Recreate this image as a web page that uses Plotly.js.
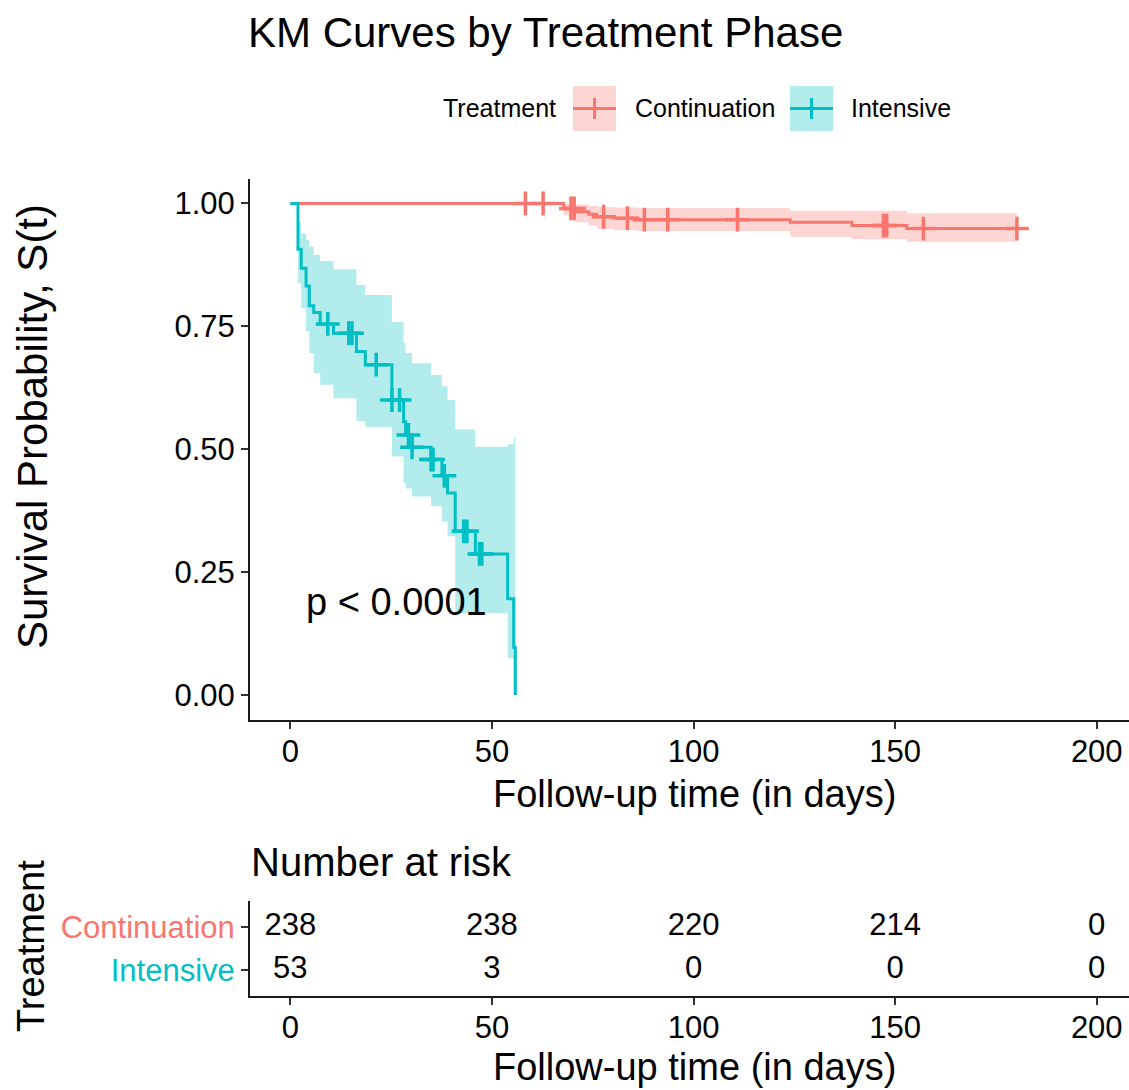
<!DOCTYPE html>
<html><head><meta charset="utf-8">
<script src="https://cdn.plot.ly/plotly-3.0.1.min.js"></script>
<style>html,body{margin:0;padding:0;background:#fff;}</style>
</head><body>
<div id="chart" style="width:1129px;height:1090px;"></div>
<script>
// ---------------- data ----------------
const contTime  = [0, 67.8, 70.7, 74.0, 76.0, 80.2, 86.0, 124.0, 139.3, 152.9, 180.2];
const contSurv  = [1, 0.990, 0.983, 0.978, 0.973, 0.970, 0.967, 0.962, 0.955, 0.949, 0.949];
const contUpper = [1, 1.000, 0.998, 0.995, 0.993, 0.992, 0.991, 0.985, 0.985, 0.980, 0.980];
const contLower = [1, 0.976, 0.962, 0.955, 0.948, 0.946, 0.944, 0.932, 0.927, 0.922, 0.922];
const contCensor = [58.3, 62.7, 69.6, 70.4, 77.7, 83.6, 87.8, 93.6, 110.9, 147.1, 147.9, 157.0, 180.2];

const intTime  = [0, 1.9, 2.7, 3.9, 4.7, 5.8, 7.4, 10.7, 16.4, 18.6, 25.2, 28.1, 28.6, 30.2, 34.9, 37.6, 39.0, 40.9, 45.9, 53.9, 55.4, 55.8];
const intSurv  = [1, 0.907, 0.868, 0.832, 0.792, 0.778, 0.755, 0.736, 0.699, 0.672, 0.600, 0.556, 0.529, 0.504, 0.479, 0.446, 0.411, 0.333, 0.287, 0.196, 0.097, 0.000];
const intUpper = [1, 0.963, 0.939, 0.926, 0.912, 0.895, 0.883, 0.866, 0.834, 0.814, 0.759, 0.716, 0.696, 0.675, 0.651, 0.628, 0.600, 0.540, 0.505, 0.510, 0.525, 0.525];
const intLower = [1, 0.837, 0.787, 0.740, 0.696, 0.655, 0.631, 0.604, 0.557, 0.545, 0.485, 0.431, 0.420, 0.404, 0.384, 0.353, 0.323, 0.167, 0.167, 0.075, 0.020, 0.020];
const intCensor = [9.3, 14.5, 15.3, 21.3, 25.2, 27.1, 29.3, 30.2, 34.9, 35.4, 38.2, 43.0, 43.8, 46.9, 47.5];

const groups = ["Continuation", "Intensive"];
const riskTimes = [0, 50, 100, 150, 200];
const riskCont = [238, 238, 220, 214, 0];
const riskInt  = [53, 3, 0, 0, 0];
const xTicks = [0, 50, 100, 150, 200];
const yTicks = [0, 0.25, 0.5, 0.75, 1];
const yTickText = ["0.00", "0.25", "0.50", "0.75", "1.00"];
const pText = "p &lt; 0.0001";

// ---------------- styling ----------------
const W = 1129, H = 1090;
const FONT = '"Liberation Sans", Arial, sans-serif';
const COL = {Continuation: '#F8766D', Intensive: '#00BFC4'};
const FILL = {Continuation: 'rgba(248,118,109,0.3)', Intensive: 'rgba(0,191,196,0.3)'};
const px = x => x / W;
const py = y => 1 - y / H;
function stepAt(times, vals, t) {
  let v = vals[0];
  for (let i = 0; i < times.length; i++) if (times[i] <= t + 1e-9) v = vals[i];
  return v;
}

const series = [
  {name: groups[0], t: contTime, s: contSurv, u: contUpper, l: contLower, c: contCensor},
  {name: groups[1], t: intTime, s: intSurv, u: intUpper, l: intLower, c: intCensor}
];

const traces = [];
series.forEach(g => {
  traces.push({x: g.t, y: g.u, type: 'scatter', mode: 'lines', line: {shape: 'hv', width: 0},
    showlegend: false, hoverinfo: 'skip', xaxis: 'x', yaxis: 'y'});
  traces.push({x: g.t, y: g.l, type: 'scatter', mode: 'lines', line: {shape: 'hv', width: 0},
    fill: 'tonexty', fillcolor: FILL[g.name], showlegend: false, hoverinfo: 'skip', xaxis: 'x', yaxis: 'y'});
});
series.forEach(g => {
  traces.push({x: g.t, y: g.s, type: 'scatter', mode: 'lines', name: g.name,
    line: {shape: 'hv', width: 3, color: COL[g.name]}, showlegend: false, xaxis: 'x', yaxis: 'y'});
});
series.forEach(g => {
  traces.push({x: g.c, y: g.c.map(t => stepAt(g.t, g.s, t)), type: 'scatter', mode: 'markers',
    marker: {symbol: 'cross-thin', size: 17, line: {width: 3.5, color: COL[g.name]}, color: COL[g.name]},
    showlegend: false, hoverinfo: 'skip', xaxis: 'x', yaxis: 'y'});
});
// risk table
traces.push({x: riskTimes, y: riskTimes.map(() => 2), text: riskCont.map(String), type: 'scatter', mode: 'text',
  textfont: {family: FONT, size: 31, color: '#000'}, textposition: 'middle center', showlegend: false,
  hoverinfo: 'skip', xaxis: 'x2', yaxis: 'y2'});
traces.push({x: riskTimes, y: riskTimes.map(() => 1), text: riskInt.map(String), type: 'scatter', mode: 'text',
  textfont: {family: FONT, size: 31, color: '#000'}, textposition: 'middle center', showlegend: false,
  hoverinfo: 'skip', xaxis: 'x2', yaxis: 'y2'});

const axisCommon = {
  showline: true, linecolor: '#1a1a1a', linewidth: 2, mirror: false,
  ticks: 'outside', ticklen: 7, tickwidth: 2, tickcolor: '#333333',
  showgrid: false, zeroline: false, fixedrange: true,
  tickfont: {family: FONT, size: 31, color: '#000'}
};

const shapes = [];
const annotations = [];
// legend (manual, ggplot style)
const legendItems = [
  {name: groups[0], box: [573, 616], text: 633},
  {name: groups[1], box: [790, 833], text: 849}
];
annotations.push({text: 'Treatment', xref: 'paper', yref: 'paper', x: px(441), y: py(108.5),
  xanchor: 'left', yanchor: 'middle', showarrow: false, font: {family: FONT, size: 25, color: '#000'}});
legendItems.forEach(it => {
  const cx = (it.box[0] + it.box[1]) / 2;
  shapes.push({type: 'rect', xref: 'paper', yref: 'paper', x0: px(it.box[0]), x1: px(it.box[1]),
    y0: py(131), y1: py(86), fillcolor: FILL[it.name], line: {width: 0}});
  shapes.push({type: 'line', xref: 'paper', yref: 'paper', x0: px(it.box[0]), x1: px(it.box[1]),
    y0: py(108.5), y1: py(108.5), line: {color: COL[it.name], width: 3}});
  shapes.push({type: 'line', xref: 'paper', yref: 'paper', x0: px(cx), x1: px(cx),
    y0: py(98), y1: py(119), line: {color: COL[it.name], width: 3}});
  annotations.push({text: it.name, xref: 'paper', yref: 'paper', x: px(it.text), y: py(108.5),
    xanchor: 'left', yanchor: 'middle', showarrow: false, font: {family: FONT, size: 25, color: '#000'}});
});
// axis titles
annotations.push({text: 'Follow-up time (in days)', xref: 'paper', yref: 'paper', x: px(695), y: py(794),
  xanchor: 'center', yanchor: 'middle', showarrow: false, font: {family: FONT, size: 38, color: '#000'}});
annotations.push({text: 'Survival Probability, S(t)', xref: 'paper', yref: 'paper', x: px(33), y: py(427),
  xanchor: 'center', yanchor: 'middle', textangle: -90, showarrow: false, font: {family: FONT, size: 42, color: '#000'}});
annotations.push({text: pText, xref: 'x', yref: 'y', x: 3.3, y: 0.19,
  xanchor: 'left', yanchor: 'middle', showarrow: false, font: {family: FONT, size: 38, color: '#000'}});
annotations.push({text: 'Number at risk', xref: 'paper', yref: 'paper', x: px(249), y: py(862),
  xanchor: 'left', yanchor: 'middle', showarrow: false, font: {family: FONT, size: 40, color: '#000'}});
annotations.push({text: 'Treatment', xref: 'paper', yref: 'paper', x: px(31), y: py(946),
  xanchor: 'center', yanchor: 'middle', textangle: -90, showarrow: false, font: {family: FONT, size: 38, color: '#000'}});
annotations.push({text: 'Follow-up time (in days)', xref: 'paper', yref: 'paper', x: px(695), y: py(1067),
  xanchor: 'center', yanchor: 'middle', showarrow: false, font: {family: FONT, size: 38, color: '#000'}});

const layout = {
  width: W, height: H,
  margin: {l: 0, r: 0, t: 0, b: 0},
  paper_bgcolor: '#fff', plot_bgcolor: '#fff',
  font: {family: FONT, color: '#000'},
  title: {text: 'KM Curves by Treatment Phase', xref: 'paper', yref: 'paper', x: px(248), xanchor: 'left',
    y: py(32), yanchor: 'middle', font: {family: FONT, size: 42, color: '#000'}},
  showlegend: false,
  xaxis: Object.assign({}, axisCommon, {domain: [px(250), 1], range: [-10, 208], tickvals: xTicks, anchor: 'y',
    ticklabelstandoff: -4}),
  yaxis: Object.assign({}, axisCommon, {domain: [py(719.6), py(178.9)], range: [-0.05, 1.05],
    tickvals: yTicks, ticktext: yTickText, anchor: 'x'}),
  xaxis2: Object.assign({}, axisCommon, {domain: [px(250), 1], range: [-10, 208], tickvals: xTicks, anchor: 'y2',
    ticklabelstandoff: -4}),
  yaxis2: Object.assign({}, axisCommon, {domain: [py(996), py(901)], range: [0.4, 2.6], tickvals: [1, 2],
    ticktext: groups.slice().reverse().map(g => '<span style="color:' + COL[g] + '">' + g + '</span>'),
    anchor: 'x2'}),
  shapes: shapes,
  annotations: annotations
};

Plotly.newPlot('chart', traces, layout, {displayModeBar: false, staticPlot: true});
</script>
</body></html>
